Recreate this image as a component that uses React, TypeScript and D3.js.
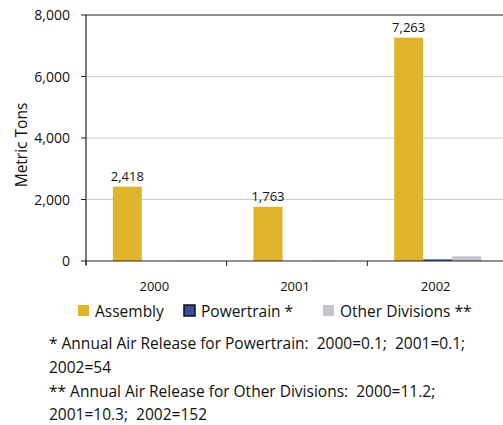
import React from "react";
import * as d3 from "d3";

const years = ["2000", "2001", "2002"];
const seriesNames = ["Assembly", "Powertrain *", "Other Divisions **"];
const assembly = [2418, 1763, 7263];
const powertrain = [0.1, 0.1, 54];
const otherDivisions = [11.2, 10.3, 152];
const yTicks = [0, 2000, 4000, 6000, 8000];
const footnotes = [
  "* Annual Air Release for Powertrain:  2000=0.1;  2001=0.1;",
  "2002=54",
  "** Annual Air Release for Other Divisions:  2000=11.2;",
  "2001=10.3;  2002=152",
];

const colors = ["#e0b52c", "#3b4e9c", "#c3c4cc"];
const font = "'Open Sans', 'Noto Sans', sans-serif";

export default function App() {
  const W = 503;
  const H = 425;
  const left = 86;
  const right = 508;
  const top = 15;
  const bottom = 261;

  const x = d3.scaleBand<string>().domain(years).range([left, right]).paddingInner(0).paddingOuter(0);
  const y = d3.scaleLinear().domain([0, 8000]).range([bottom, top]);
  const sub = d3.scaleBand<number>().domain([0, 1, 2]).range([0, 87]);
  const groupOffset = (x.bandwidth() - 87) / 2;
  const data = [assembly, powertrain, otherDivisions];
  const fmt = d3.format(",");

  return (
    <svg width={W} height={H} style={{ position: "absolute", left: 0, top: 0, background: "#fff" }} fontFamily={font}>
      {/* gridlines */}
      {yTicks.filter((t) => t > 0 && t < 8000).map((t) => (
        <line key={t} x1={left} x2={W} y1={y(t)} y2={y(t)} stroke="#cccccc" strokeWidth={1} />
      ))}
      {/* top border */}
      <line x1={left} x2={W} y1={y(8000)} y2={y(8000)} stroke="#6b6b6b" strokeWidth={1.5} />
      {/* bars */}
      {years.map((yr, i) =>
        data.map((series, s) => {
          const bx = (x(yr) as number) + groupOffset + (sub(s) as number);
          const h = bottom - y(series[i]);
          return (
            <rect key={yr + s} x={bx} y={y(series[i])} width={sub.bandwidth()} height={Math.max(h, 0)} fill={colors[s]} />
          );
        })
      )}
      {/* value labels for assembly */}
      {years.map((yr, i) => (
        <text key={yr} x={(x(yr) as number) + groupOffset + (sub(0) as number) + sub.bandwidth() / 2} y={y(assembly[i]) - 6}
          textAnchor="middle" fontSize={13} fill="#111">{fmt(assembly[i])}</text>
      ))}
      {/* y axis */}
      <line x1={left} x2={left} y1={top} y2={bottom + 4} stroke="#222" strokeWidth={1.2} />
      {yTicks.map((t) => (
        <g key={t}>
          <line x1={left - 5} x2={left} y1={y(t)} y2={y(t)} stroke="#222" strokeWidth={1} />
          <text x={left - 16} y={y(t) + 5} textAnchor="end" fontSize={14} fill="#111">{fmt(t)}</text>
        </g>
      ))}
      {/* x axis */}
      <line x1={left} x2={W} y1={bottom} y2={bottom} stroke="#222" strokeWidth={1.2} />
      {years.map((yr) => (
        <g key={yr}>
          <line x1={x(yr) as number} x2={x(yr) as number} y1={bottom} y2={bottom + 5} stroke="#222" strokeWidth={1} />
          <text x={(x(yr) as number) + x.bandwidth() / 2 - 2} y={bottom + 30} textAnchor="middle" fontSize={13} fill="#111">{yr}</text>
        </g>
      ))}
      <text transform={`translate(27,${(top + bottom) / 2 + 7}) rotate(-90)`} textAnchor="middle" fontSize={15.5} fill="#111">Metric Tons</text>
      {/* legend */}
      {seriesNames.map((name, s) => {
        const lx = [78, 184, 323][s];
        return (
          <g key={name}>
            <rect x={lx} y={305} width={11} height={11} fill={colors[s]}
              stroke={s === 1 ? "#111" : "none"} strokeWidth={s === 1 ? 1.5 : 0} />
            <text x={lx + 17} y={317} fontSize={15.5} fill="#111">{name}</text>
          </g>
        );
      })}
      {/* footnotes */}
      {footnotes.map((line, i) => (
        <text key={i} x={49} y={[349, 373, 397, 420][i]} fontSize={15.5} fill="#111" xmlSpace="preserve" style={{ whiteSpace: "pre" }}>{line}</text>
      ))}
    </svg>
  );
}
